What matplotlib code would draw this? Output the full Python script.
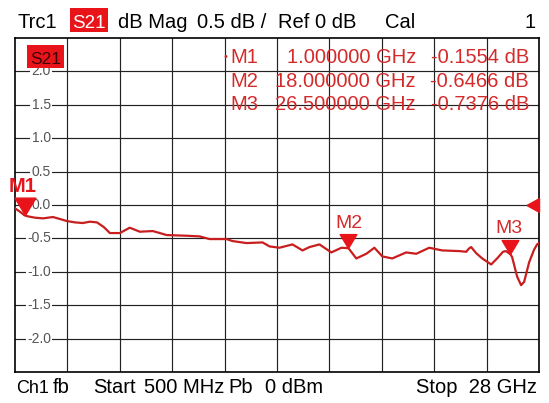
import matplotlib
matplotlib.use('Agg')
import matplotlib.pyplot as plt
from matplotlib.patches import Rectangle

# Trace S21 (GHz, dB)
freq_ghz = [0.50, 0.76, 1.00, 1.18, 1.55, 1.97, 2.49, 2.86, 3.22, 3.64, 4.06, 4.43,
            4.80, 5.16, 5.48, 6.00, 6.26, 6.52, 6.79, 7.05, 7.73, 8.10, 8.46, 9.51,
            10.19, 10.71, 11.60, 11.92, 12.65, 13.49, 13.86, 14.38, 15.06, 15.59,
            15.95, 16.48, 17.10, 17.63, 18.00, 18.41, 18.94, 19.36, 19.78, 20.30,
            21.03, 21.56, 22.24, 22.92, 23.81, 24.18, 24.33, 24.44, 24.70, 25.02,
            25.49, 25.80, 26.11, 26.27, 26.50, 26.59, 26.85, 27.06, 27.22, 27.48,
            27.74, 27.90, 28.00]
s21_db = [-0.05, -0.10, -0.155, -0.17, -0.19, -0.20, -0.18, -0.21, -0.24, -0.26, -0.27, -0.25,
          -0.26, -0.33, -0.42, -0.42, -0.38, -0.34, -0.37, -0.40, -0.39, -0.42, -0.45, -0.46,
          -0.47, -0.51, -0.51, -0.54, -0.57, -0.56, -0.62, -0.64, -0.59, -0.68,
          -0.63, -0.59, -0.71, -0.64, -0.6466, -0.80, -0.73, -0.64, -0.77, -0.80,
          -0.71, -0.73, -0.64, -0.68, -0.69, -0.70, -0.65, -0.63, -0.72, -0.80,
          -0.89, -0.80, -0.70, -0.69, -0.7376, -0.78, -1.07, -1.20, -1.15, -0.86,
          -0.67, -0.59, -0.57]

marker_names = ['M1', 'M2', 'M3']
marker_freq = [1.0, 18.0, 26.5]
marker_db = [-0.1554, -0.6466, -0.7376]
marker_freq_txt = ['1.000000 GHz', '18.000000 GHz', '26.500000 GHz']
marker_db_txt = ['-0.1554 dB', '-0.6466 dB', '-0.7376 dB']

ytick_vals = [2.0, 1.5, 1.0, 0.5, 0.0, -0.5, -1.0, -1.5, -2.0]
ytick_txt = ['2.0', '1.5', '1.0', '0.5', '0.0', '-0.5', '-1.0', '-1.5', '-2.0']

W, H = 549, 403
VERM = '#e8141a'
TRACO = '#c81e1e'
TXTVERM = '#d42a2a'
FONTE = 'Liberation Sans'
TAM = 14.5

plt.rcParams['font.family'] = [FONTE, 'DejaVu Sans']

fig = plt.figure(figsize=(W / 100, H / 100), dpi=100)
fig.patch.set_facecolor('white')


def px(x, y):
    # pixel da tela -> coordenadas da figura
    return x / W, 1 - y / H


x0, y0 = px(15, 372)
x1, y1 = px(539, 38)
ax = fig.add_axes([x0, y0, x1 - x0, y1 - y0])
ax.set_xlim(0.5, 28.0)
ax.set_ylim(-2.5, 2.5)
ax.set_xticks([])
ax.set_yticks([])
for sp in ax.spines.values():
    sp.set_linewidth(1.2)
    sp.set_color('black')

# grade 10 x 10
passo_x = (28.0 - 0.5) / 10
for i in range(1, 10):
    ax.axvline(0.5 + i * passo_x, color='#222222', lw=0.85, zorder=1)
for i in range(1, 10):
    ax.axhline(-2.5 + i * 0.5, color='#222222', lw=0.85, zorder=1)

# rótulos da escala, com fundo branco cortando a grade
for v, t in zip(ytick_vals, ytick_txt):
    ax.text(0.0686, v, t, transform=ax.get_yaxis_transform(), ha='right', va='center',
            fontsize=10, color='#555555', zorder=2,
            bbox=dict(facecolor='white', edgecolor='none', pad=1.0))

# traço
ax.plot(freq_ghz, s21_db, color=TRACO, lw=1.6, zorder=4, solid_joinstyle='round')

# marcadores (ponta do triângulo no ponto)
tri_baixo = [(0, 0), (-0.6, 1), (0.6, 1), (0, 0)]
tamanhos = [25, 20, 20]
for f, v, s in zip(marker_freq, marker_db, tamanhos):
    ax.plot([f], [v], marker=tri_baixo, markersize=s, color=VERM, mec=VERM,
            linestyle='none', zorder=5, clip_on=False)

# referência 0 dB na borda direita
tri_esq = [(-1, 0), (0, -0.55), (0, 0.55), (-1, 0)]
ax.plot([1.0], [0.0], marker=tri_esq, markersize=18, color=VERM, mec=VERM,
        transform=ax.get_yaxis_transform(), linestyle='none', zorder=5, clip_on=False)

# rótulos dos marcadores
fig.text(*px(23, 192), 'M1', ha='center', va='baseline', fontsize=14.5,
         fontweight='bold', color=VERM)
fig.text(*px(349, 228), 'M2', ha='center', va='baseline', fontsize=14, color=TXTVERM)
fig.text(*px(509, 233), 'M3', ha='center', va='baseline', fontsize=14, color=TXTVERM)

# tabela de marcadores
linhas_y = [63, 87, 110]
for nome, ft, vt, yy in zip(marker_names, marker_freq_txt, marker_db_txt, linhas_y):
    fig.text(*px(230, yy), nome, ha='left', va='baseline', fontsize=TAM, color=TXTVERM)
    fig.text(*px(416, yy), ft, ha='right', va='baseline', fontsize=TAM, color=TXTVERM)
    fig.text(*px(529, yy), vt, ha='right', va='baseline', fontsize=TAM, color=TXTVERM)
fig.text(*px(226, 60), '•', ha='center', va='baseline', fontsize=8, color=TXTVERM)

# caixa S21 dentro da grade
bx, by = px(27, 68)
fig.patches.append(Rectangle((bx, by), 37 / W, 23 / H, transform=fig.transFigure,
                             facecolor=VERM, edgecolor='none', zorder=6))
fig.text(*px(45.5, 64), 'S21', ha='center', va='baseline', fontsize=12.5,
         color='#3a0505', zorder=7)

# cabeçalho
hx, hy = px(70, 32)
fig.patches.append(Rectangle((hx, hy), 38 / W, 24 / H, transform=fig.transFigure,
                             facecolor=VERM, edgecolor='none'))
cab = 28
fig.text(*px(18, cab), 'Trc1', ha='left', va='baseline', fontsize=TAM, color='black')
fig.text(*px(89, cab), 'S21', ha='center', va='baseline', fontsize=13.5, color='white')
fig.text(*px(118, cab), 'dB Mag', ha='left', va='baseline', fontsize=TAM, color='black')
fig.text(*px(197, cab), '0.5 dB /', ha='left', va='baseline', fontsize=TAM, color='black')
fig.text(*px(278, cab), 'Ref 0 dB', ha='left', va='baseline', fontsize=TAM, color='black')
fig.text(*px(385, cab), 'Cal', ha='left', va='baseline', fontsize=TAM, color='black')
fig.text(*px(536, cab), '1', ha='right', va='baseline', fontsize=TAM, color='black')

# rodapé
rod = 393
fig.text(*px(16, rod), 'Ch1', ha='left', va='baseline', fontsize=13, color='black')
fig.text(*px(53, rod), 'fb', ha='left', va='baseline', fontsize=TAM, color='black')
fig.text(*px(93, rod), 'Start', ha='left', va='baseline', fontsize=TAM, color='black')
fig.text(*px(144, rod), '500 MHz', ha='left', va='baseline', fontsize=TAM, color='black')
fig.text(*px(228, rod), 'Pb', ha='left', va='baseline', fontsize=TAM, color='black')
fig.text(*px(265, rod), '0 dBm', ha='left', va='baseline', fontsize=TAM, color='black')
fig.text(*px(537, rod), 'Stop  28 GHz', ha='right', va='baseline', fontsize=TAM, color='black')

fig.savefig('out.png', dpi=100, facecolor='white')
plt.close(fig)
